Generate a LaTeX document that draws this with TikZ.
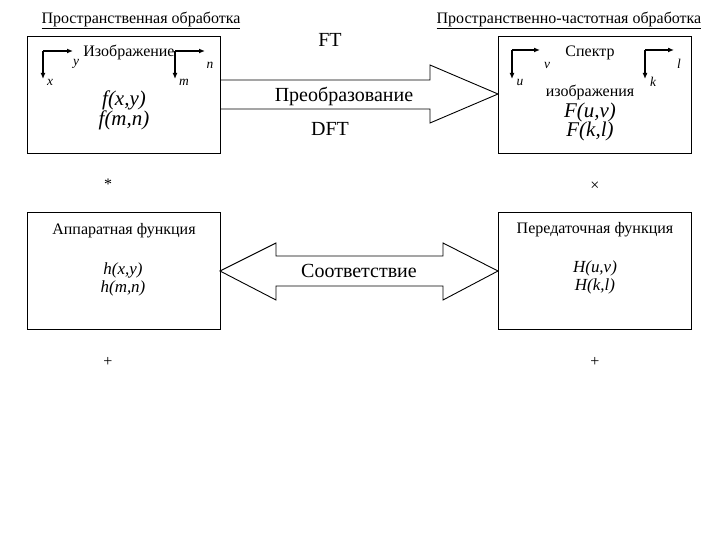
\documentclass[tikz,border=0pt]{standalone}
\usepackage{fontspec}
\setmainfont{Liberation Serif}
\usetikzlibrary{arrows.meta}
\begin{document}
\begin{tikzpicture}[x=1pt,y=-1pt,
  box/.style={draw,line width=0.9pt},
  blk/.style={draw,line width=0.9pt,line join=miter},
  ax/.style={line width=1.3pt,-{Latex[length=6pt,width=5pt]}},
  hdr/.style={font=\fontsize{16}{18}\selectfont},
  lbl/.style={font=\fontsize{16}{18}\selectfont,inner sep=0pt},
  sml/.style={font=\fontsize{16}{18}\selectfont\itshape,inner sep=0pt,scale=0.84,transform shape},
  fn/.style={font=\fontsize{16}{18}\selectfont\itshape,inner sep=0pt,scale=1.31,transform shape},
  fns/.style={font=\fontsize{16}{18}\selectfont\itshape,inner sep=0pt,scale=1.06,transform shape},
  big/.style={font=\fontsize{16}{18}\selectfont,inner sep=0pt,scale=1.25,transform shape}]
\useasboundingbox (0,0) rectangle (720,540);
% boxes
\draw[box] (27,36) rectangle (220,153);
\draw[box] (498,36) rectangle (691,153);
\draw[box] (27,212) rectangle (220,329);
\draw[box] (498,212) rectangle (691,329);
% headers
\node[hdr,inner sep=0pt] (h1) at (141,20) {\underline{Пространственная обработка}};
\node[hdr,inner sep=0pt] (h2) at (569,20) {\underline{Пространственно-частотная обработка}};
% top block arrow
\draw[blk] (220,80) -- (430,80) -- (430,65) -- (498,94) -- (430,123) -- (430,109) -- (220,109);
\node[big] (ft) at (330,40) {FT};
\node[big] (pr) at (344,96) {Преобразование};
\node[big] (dft) at (330,129) {DFT};
% bottom double arrow
\draw[blk] (220,271) -- (276,243) -- (276,256) -- (443,256) -- (443,243) -- (498,271) -- (443,300) -- (443,286) -- (276,286) -- (276,300) -- cycle;
\node[big] (so) at (359,271) {Соответствие};
% top-left box content
\coordinate (c1) at (43,51);
\draw[ax] (c1) -- (73,51);
\draw[ax] (c1) -- (43,79);
\node[sml] (ly) at (76,64) {y};
\node[sml] (lx) at (50,82) {x};
\node[lbl] (iz) at (129,52) {Изображение};
\coordinate (c2) at (175,51);
\draw[ax] (c2) -- (205,51);
\draw[ax] (c2) -- (175,79);
\node[sml] (ln) at (210,65) {n};
\node[sml] (lm) at (184,82) {m};
\node[fn] (f1) at (124,100) {f(x,y)};
\node[fn] (f2) at (124,120) {f(m,n)};
% top-right box content
\coordinate (c3) at (512,50);
\draw[ax] (c3) -- (540,50);
\draw[ax] (c3) -- (512,79);
\node[sml] (lv) at (547,65) {v};
\node[sml] (lu) at (520,82) {u};
\node[lbl] (sp) at (590,53) {Спектр};
\coordinate (c4) at (645,50);
\draw[ax] (c4) -- (674,50);
\draw[ax] (c4) -- (645,79);
\node[sml] (ll) at (679,64) {l};
\node[sml] (lk) at (653,82) {k};
\node[lbl] (iz2) at (590,92) {изображения};
\node[fn] (F1) at (590,112) {F(u,v)};
\node[fn] (F2) at (590,131) {F(k,l)};
% bottom-left
\node[lbl] (ap) at (124,231) {Аппаратная функция};
\node[fns] (h1a) at (123,270) {h(x,y)};
\node[fns] (h2a) at (123,288) {h(m,n)};
% bottom-right
\node[lbl] (pe) at (595,230) {Передаточная функция};
\node[fns] (H1) at (595,268) {H(u,v)};
\node[fns] (H2) at (595,286) {H(k,l)};
% symbols
\node[lbl] (st) at (108,184) {*};
\node[lbl] (tm) at (595,186) {×};
\node[lbl] (p1) at (108,362) {+};
\node[lbl] (p2) at (595,362) {+};
\end{tikzpicture}
\end{document}
